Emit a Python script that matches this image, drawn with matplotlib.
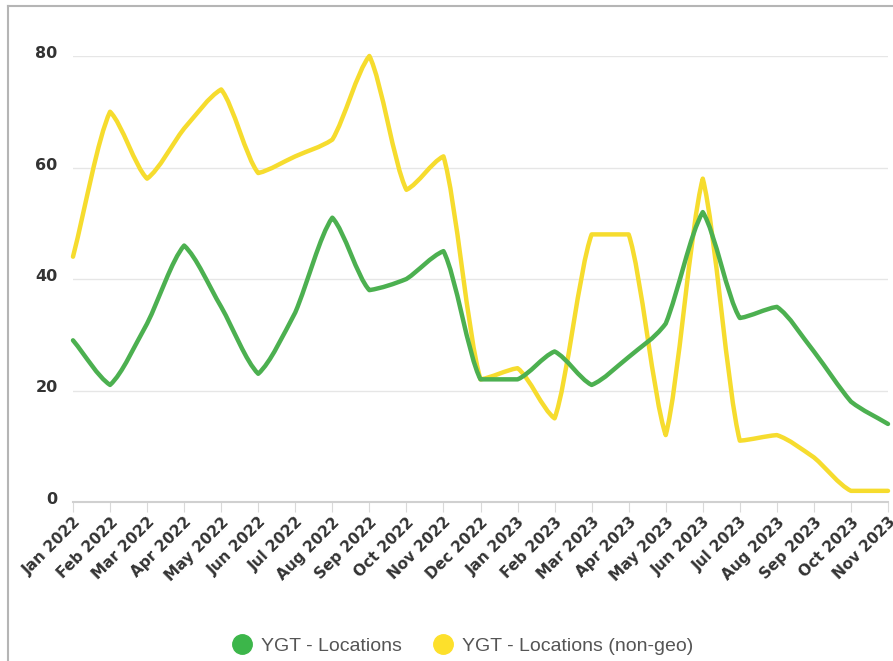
import numpy as np
import matplotlib
matplotlib.use("Agg")
import matplotlib.pyplot as plt
import matplotlib.transforms as mtransforms
from matplotlib.path import Path
from matplotlib.patches import PathPatch
from matplotlib.lines import Line2D

months = ["Jan 2022", "Feb 2022", "Mar 2022", "Apr 2022", "May 2022", "Jun 2022",
          "Jul 2022", "Aug 2022", "Sep 2022", "Oct 2022", "Nov 2022", "Dec 2022",
          "Jan 2023", "Feb 2023", "Mar 2023", "Apr 2023", "May 2023", "Jun 2023",
          "Jul 2023", "Aug 2023", "Sep 2023", "Oct 2023", "Nov 2023"]
locations = [29, 21, 32, 46, 35, 23, 34, 51, 38, 40, 45, 22,
             22, 27, 21, 26, 32, 52, 33, 35, 27, 18, 14]
locations_nongeo = [44, 70, 58, 67, 74, 59, 62, 65, 80, 56, 62, 22,
                    24, 15, 48, 48, 12, 58, 11, 12, 8, 2, 2]
y_ticks = [0, 20, 40, 60, 80]

GREEN = "#4cb050"
YELLOW = "#f6dc2e"
SMOOTH = 0.45  # tangent scale for the gently rounded line rendering


def rounded_path(x, y, k):
    x = np.asarray(x, float)
    y = np.asarray(y, float)
    n = len(x)
    h = np.diff(x)
    s = np.diff(y) / h
    t = np.zeros(n)
    for i in range(1, n - 1):
        h0, h1 = h[i - 1], h[i]
        s0, s1 = s[i - 1], s[i]
        p = (s0 * h1 + s1 * h0) / (h0 + h1)
        t[i] = (np.sign(s0) + np.sign(s1)) * min(abs(s0), abs(s1), 0.5 * abs(p))
    t[0] = s[0]
    t[-1] = s[-1]
    verts = [(x[0], y[0])]
    codes = [Path.MOVETO]
    for i in range(n - 1):
        dx = (x[i + 1] - x[i]) / 3
        a = k * t[i] + (1 - k) * s[i]
        b = k * t[i + 1] + (1 - k) * s[i]
        verts += [(x[i] + dx, y[i] + dx * a),
                  (x[i + 1] - dx, y[i + 1] - dx * b),
                  (x[i + 1], y[i + 1])]
        codes += [Path.CURVE4] * 3
    return Path(verts, codes)


fig = plt.figure(figsize=(8.93, 6.61), dpi=100)
fig.patch.set_facecolor("white")
ax = fig.add_axes([73 / 893, 1 - 502 / 661, (888 - 73) / 893, (502 - 56) / 661])

xs = np.arange(len(months))
for vals, col in [(locations_nongeo, YELLOW), (locations, GREEN)]:
    patch = PathPatch(rounded_path(xs, vals, SMOOTH), facecolor="none", edgecolor=col,
                      lw=3.2, capstyle="round", joinstyle="round", clip_on=False, zorder=3)
    ax.add_patch(patch)

ax.set_xlim(0, len(months) - 1)
ax.set_ylim(0, 80)
ax.set_yticks(y_ticks)
ax.set_xticks(xs)
ax.set_xticklabels(months, rotation=45, ha="right", rotation_mode="anchor",
                   fontsize=11, fontweight="bold", color="#333333")
ax.tick_params(axis="x", length=7, color="#d9d9d9", pad=2)
ax.tick_params(axis="y", length=0, pad=11, labelsize=11.5, labelcolor="#333333")
yoff = mtransforms.ScaledTranslation(0, 4 / 100, fig.dpi_scale_trans)
for lab in ax.get_yticklabels():
    lab.set_fontweight("bold")
    lab.set_transform(lab.get_transform() + yoff)
ax.grid(axis="y", color="#e6e6e6", lw=1)
ax.set_axisbelow(True)
for sp in ["top", "right", "left"]:
    ax.spines[sp].set_visible(False)
ax.spines["bottom"].set_color("#d0d0d0")
ax.spines["bottom"].set_linewidth(1.5)

# outer frame (top and left edges visible in the reference)
fig.add_artist(Line2D([8 / 893, 8 / 893], [0, 1 - 6 / 661], transform=fig.transFigure,
                      color="#b5b5b5", lw=1.5))
fig.add_artist(Line2D([8 / 893, 1], [1 - 6 / 661, 1 - 6 / 661], transform=fig.transFigure,
                      color="#b5b5b5", lw=1.5))

handles = [Line2D([], [], marker="o", ls="none", markersize=14, color="#3cb64a",
                  label="YGT - Locations"),
           Line2D([], [], marker="o", ls="none", markersize=14, color="#fde02b",
                  label="YGT - Locations (non-geo)")]
fig.legend(handles=handles, loc="center", bbox_to_anchor=(458 / 893, 1 - 646 / 661),
           ncol=2, frameon=False, handletextpad=0.0, columnspacing=1.1,
           prop={"family": "Liberation Sans", "size": 14}, labelcolor="#555555")

fig.savefig("out.png", dpi=100)
